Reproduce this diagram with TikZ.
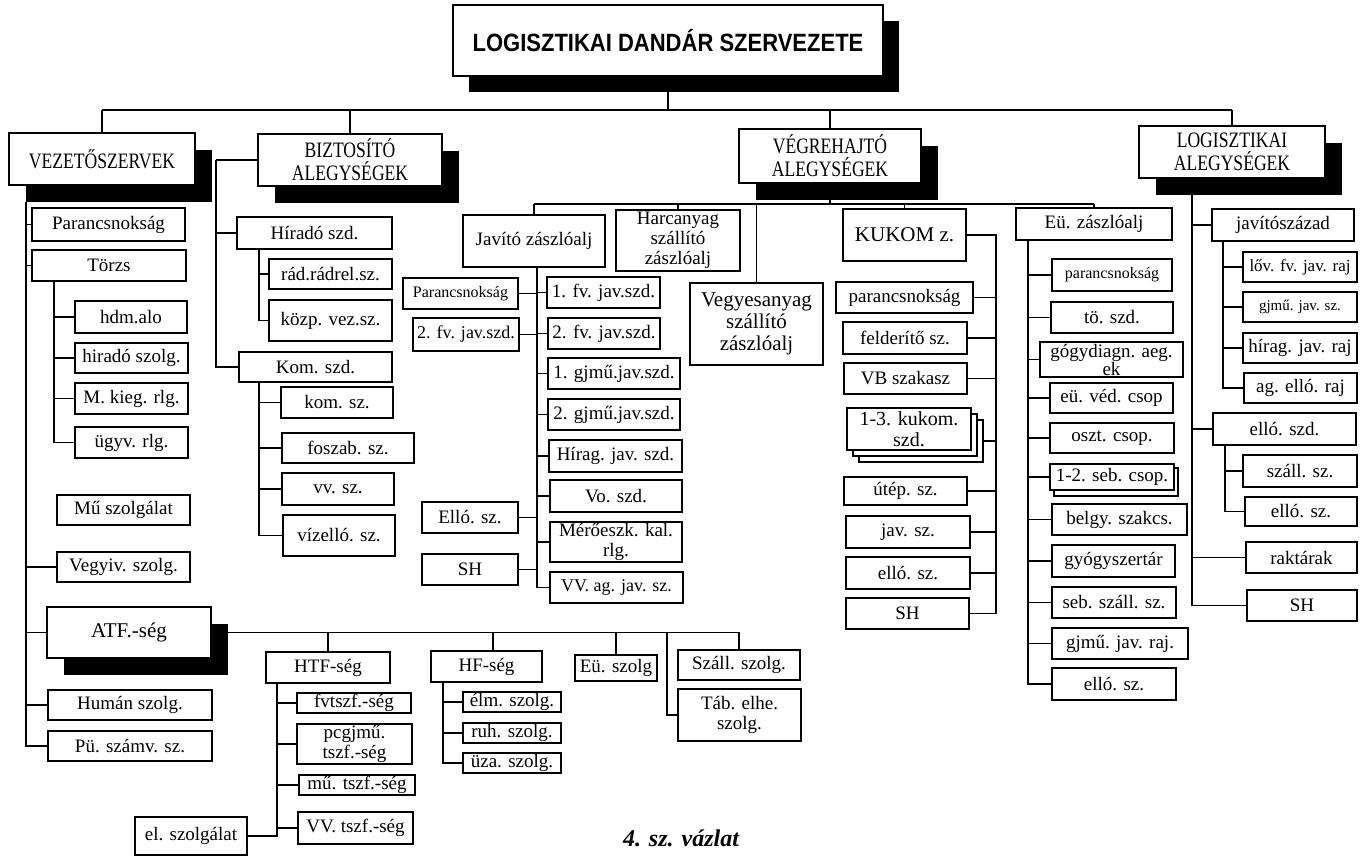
\documentclass[tikz,border=0pt]{standalone}
\usepackage{fontspec}
\setmainfont{Liberation Serif}
\newfontfamily\capfont[FakeStretch=0.8]{Liberation Serif}
\newfontfamily\titlefont[FakeStretch=0.88]{Liberation Sans}
\usetikzlibrary{shadows}
\tikzset{
  box/.style={draw, fill=white, line width=0.6pt, inner sep=0pt, outer sep=0pt, align=center,
              font=\fontsize{9.5}{10}\selectfont},
  shad/.style={general shadow={fill=black, shadow xshift=8.5pt, shadow yshift=-8.5pt}},
  big/.style={shad, font=\capfont\fontsize{11}{11.5}\selectfont},
  titlebox/.style={general shadow={fill=black, shadow xshift=8pt, shadow yshift=-8pt},
                   font=\titlefont\bfseries\fontsize{12.5}{14}\selectfont},
  sm/.style={font=\fontsize{8}{9}\selectfont},
  smm/.style={font=\fontsize{7.5}{8.5}\selectfont},
  mid/.style={font=\fontsize{9}{9.5}\selectfont},
  lg/.style={font=\fontsize{10.5}{11}\selectfont},
  conn/.style={line width=0.6pt}
}
\newcommand{\obox}[7][]{\node[box,#1,minimum width={(#5-#3)*0.5pt},minimum height={(#6-#4)*0.5pt}] (#2) at ({(#3+#5)/2},{(#4+#6)/2}) {#7};}
\begin{document}
\begin{tikzpicture}[x=0.5pt,y=-0.5pt]
\fill[white] (0,0) rectangle (1360,856);
\useasboundingbox (0,0) rectangle (1360,856);
% title and level 1
\obox[titlebox]{title}{453}{5}{883}{76}{LOGISZTIKAI DANDÁR SZERVEZETE}
\obox[big]{vez}{9}{133}{195}{185}{VEZETŐSZERVEK}
\obox[big]{biz}{258}{134}{442}{186}{BIZTOSÍTÓ\\ALEGYSÉGEK}
\obox[big]{veg}{739}{129}{921}{183}{VÉGREHAJTÓ\\ALEGYSÉGEK}
\obox[big]{log}{1139}{126}{1325}{178}{LOGISZTIKAI\\ALEGYSÉGEK}
% vezetőszervek
\obox{vpar}{32}{208}{185}{241}{Parancsnokság}
\obox{vtor}{32}{250}{186}{281}{Törzs}
\obox{hdm}{75}{301}{187}{333}{hdm.alo}
\obox{hiszolg}{75}{343}{188}{373}{hiradó szolg.}
\obox{mkieg}{75}{383}{188}{414}{M. kieg. rlg.}
\obox{ugyv}{75}{427}{188}{458}{ügyv. rlg.}
\obox{mu}{57}{495}{190}{525}{Mű szolgálat}
\obox{vegyiv}{57}{552}{190}{582}{Vegyiv. szolg.}
\obox[shad,font=\fontsize{10.5}{11}\selectfont]{atf}{47}{607}{211}{658}{ATF.-ség}
\obox{human}{48}{690}{212}{720}{Humán szolg.}
\obox{pu}{48}{731}{212}{761}{Pü. számv. sz.}
% biztosító
\obox{hirszd}{237}{217}{392}{249}{Híradó szd.}
\obox{rad}{269}{259}{392}{289}{rád.rádrel.sz.}
\obox{kozp}{269}{300}{392}{341}{közp. vez.sz.}
\obox{kom}{239}{352}{392}{382}{Kom. szd.}
\obox{komsz}{281}{387}{393}{418}{kom. sz.}
\obox{fosz}{282}{433}{414}{463}{foszab. sz.}
\obox{vvsz}{282}{473}{394}{505}{vv. sz.}
\obox{viz}{283}{515}{395}{556}{vízelló. sz.}
% végrehajtó
\obox{jav}{463}{215}{605}{267}{Javító zászlóalj}
\obox{harc}{616}{210}{740}{271}{Harcanyag\\szállító\\zászlóalj}
\obox[lg]{vegy}{690}{283}{823}{365}{Vegyesanyag\\szállító\\zászlóalj}
\obox[sm]{jpar}{403}{278}{518}{309}{Parancsnokság}
\obox[mid]{jfvl}{413}{318}{519}{351}{2. fv. jav.szd.}
\obox{jello}{422}{502}{518}{533}{Elló. sz.}
\obox{jsh}{422}{554}{518}{585}{SH}
\obox{ja}{547}{277}{660}{308}{1. fv. jav.szd.}
\obox{jb}{548}{318}{660}{349}{2. fv. jav.szd.}
\obox{jc}{548}{358}{680}{389}{1. gjmű.jav.szd.}
\obox{jd}{548}{399}{680}{430}{2. gjmű.jav.szd.}
\obox{je}{549}{440}{682}{472}{Hírag. jav. szd.}
\obox{jf}{550}{480}{682}{512}{Vo. szd.}
\obox{jg}{550}{522}{682}{562}{Mérőeszk. kal.\\rlg.}
\obox[mid]{jh}{550}{572}{683}{603}{VV. ag. jav. sz.}
% kukom
\obox[lg]{kuk}{843}{209}{966}{261}{KUKOM z.}
\obox{ka}{836}{282}{973}{313}{parancsnokság}
\obox{kb}{843}{322}{967}{354}{felderítő sz.}
\obox{kc}{844}{363}{967}{394}{VB szakasz}
\obox{kdz}{859}{420}{983}{462}{}
\obox{kdy}{853}{414}{977}{456}{}
\obox[font=\fontsize{10}{10.5}\selectfont]{kd}{847}{408}{971}{450}{1-3. kukom.\\szd.}
\obox{ke}{844}{477}{967}{505}{útép. sz.}
\obox{kf}{846}{516}{970}{548}{jav. sz.}
\obox{kg}{846}{557}{970}{589}{elló. sz.}
\obox{kh}{846}{598}{969}{629}{SH}
% eü
\obox{eu}{1016}{208}{1172}{240}{Eü. zászlóalj}
\obox[sm]{ea}{1052}{259}{1172}{291}{parancsnokság}
\obox{eb}{1051}{302}{1173}{333}{tö. szd.}
\obox[font=\fontsize{9.5}{9}\selectfont]{ec}{1040}{342}{1183}{377}{gógydiagn. aeg.\\ek}
\obox{ed}{1050}{383}{1173}{413}{eü. véd. csop}
\obox{ee}{1050}{423}{1174}{453}{oszt. csop.}
\obox{efz}{1054}{468}{1178}{496}{}
\obox{ef}{1050}{464}{1174}{490}{1-2. seb. csop.}
\obox{eg}{1052}{504}{1187}{535}{belgy. szakcs.}
\obox{eh}{1052}{545}{1175}{577}{gyógyszertár}
\obox{ei}{1052}{587}{1176}{618}{seb. száll. sz.}
\obox{ej}{1052}{628}{1188}{659}{gjmű. jav. raj.}
\obox{ek}{1052}{668}{1176}{700}{elló. sz.}
% logisztikai
\obox{la}{1212}{209}{1354}{241}{javítószázad}
\obox[font=\fontsize{8.5}{9}\selectfont]{laa}{1243}{252}{1357}{282}{lőv. fv. jav. raj}
\obox[smm]{lab}{1243}{292}{1357}{322}{gjmű. jav. sz.}
\obox{lac}{1243}{333}{1357}{363}{hírag. jav. raj}
\obox{lad}{1244}{373}{1357}{403}{ag. elló. raj}
\obox{lb}{1213}{413}{1356}{445}{elló. szd.}
\obox{lba}{1243}{455}{1357}{487}{száll. sz.}
\obox{lbb}{1245}{497}{1357}{526}{elló. sz.}
\obox{lc}{1246}{542}{1357}{573}{raktárak}
\obox{ld}{1247}{590}{1357}{621}{SH}
% ATF subtree
\obox{htf}{266}{652}{390}{683}{HTF-ség}
\obox{fvt}{297}{693}{411}{713}{fvtszf.-ség}
\obox{pcg}{297}{724}{412}{764}{pcgjmű.\\tszf.-ség}
\obox{mut}{299}{775}{415}{795}{mű. tszf.-ség}
\obox{vvt}{298}{812}{413}{844}{VV. tszf.-ség}
\obox{el}{135}{817}{247}{855}{el. szolgálat}
\obox{hf}{431}{651}{542}{682}{HF-ség}
\obox{elm}{463}{692}{561}{712}{élm. szolg.}
\obox{ruh}{463}{723}{561}{743}{ruh. szolg.}
\obox{uza}{463}{753}{561}{773}{üza. szolg.}
\obox{eusz}{575}{655}{657}{681}{Eü. szolg}
\obox{szall}{678}{650}{800}{680}{Száll. szolg.}
\obox{tab}{678}{689}{801}{741}{Táb. elhe.\\szolg.}
\node[font=\bfseries\itshape\fontsize{12}{14}\selectfont, inner sep=1pt] (cap) at (681,838) {4. sz. vázlat};
% ---- connectors ----
\coordinate (bus) at (666,110);
\draw[conn] (title.south) -- (title.south |- bus);
\draw[conn] (vez.north |- bus) -- (log.north |- bus);
\foreach \n in {vez,biz,veg,log} \draw[conn] (\n.north |- bus) -- (\n.north);
% vezetőszervek
\coordinate (vt) at ([shift={(17,17)}]vez.south west);
\draw[conn] (vt) |- (pu.west);
\foreach \n in {vpar,vtor,vegyiv,atf,human} \draw[conn] (vt) |- (\n.west);
\coordinate (tt) at (vtor.south -| 54,0);
\foreach \n in {hdm,hiszolg,mkieg,ugyv} \draw[conn] (tt) |- (\n.west);
% biztosító
\coordinate (bt) at (biz.west -| 216,0);
\draw[conn] (biz.west) -- (bt);
\foreach \n in {hirszd,kom} \draw[conn] (bt) |- (\n.west);
\coordinate (ht) at (hirszd.south -| 259,0);
\foreach \n in {rad,kozp} \draw[conn] (ht) |- (\n.west);
\coordinate (kt) at (kom.south -| 259,0);
\foreach \n in {komsz,fosz,vvsz,viz} \draw[conn] (kt) |- (\n.west);
% végrehajtó
\coordinate (vb) at (831,204);
\draw[conn] (veg.south) -- (veg.south |- vb);
\draw[conn] (jav.north |- vb) -- (eu.north |- vb);
\foreach \n in {jav,harc,vegy,kuk,eu} \draw[conn] (\n.north |- vb) -- (\n.north);
\coordinate (jt) at (jav.south -| 537,0);
\foreach \n in {ja,jb,jc,jd,je,jf,jg,jh} \draw[conn] (jt) |- (\n.west);
\foreach \n in {jpar,jfvl,jello,jsh} \draw[conn] (\n.east) -- (\n.east -| jt);
\coordinate (kut) at (kuk.east -| 996,0);
\draw[conn] (kuk.east) -- (kut) |- (kh.east);
\foreach \n in {ka,kb,kc,kdz,ke,kf,kg} \draw[conn] (\n.east) -- (\n.east -| kut);
\coordinate (et) at (eu.south -| 1028,0);
\foreach \n in {ea,eb,ec,ed,ee,ef,eg,eh,ei,ej,ek} \draw[conn] (et) |- (\n.west);
% logisztikai
\coordinate (lt) at (log.south -| 1192,0);
\foreach \n in {la,lb,lc,ld} \draw[conn] (lt) |- (\n.west);
\coordinate (lat) at (la.south -| 1223,0);
\foreach \n in {laa,lab,lac,lad} \draw[conn] (lat) |- (\n.west);
\coordinate (lbt) at (lb.south -| 1225,0);
\foreach \n in {lba,lbb} \draw[conn] (lbt) |- (\n.west);
% ATF
\draw[conn] (atf.east) -- (atf.east -| szall.north) -- (szall.north);
\draw[conn] (htf.north |- atf.east) -- (htf.north);
\coordinate (hfc) at (atf.east -| 493,0);
\draw[conn] (hfc) -- (hfc |- hf.north);
\draw[conn] (eusz.north |- atf.east) -- (eusz.north);
\coordinate (tc) at (atf.east -| 667,0);
\draw[conn] (tc) |- (tab.west);
\coordinate (htt) at (htf.south -| 277,0);
\foreach \n in {fvt,pcg,mut,vvt} \draw[conn] (htt) |- (\n.west);
\draw[conn] (htt) |- (el.east);
\coordinate (hft) at (hf.south -| 443,0);
\foreach \n in {elm,ruh,uza} \draw[conn] (hft) |- (\n.west);
\end{tikzpicture}
\end{document}
